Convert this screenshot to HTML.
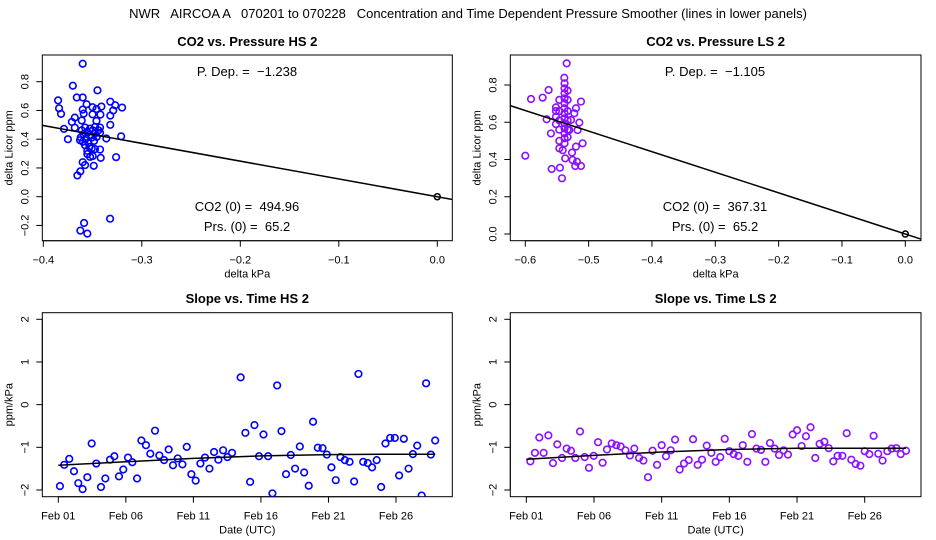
<!DOCTYPE html>
<html><head><meta charset="utf-8"><style>
body{margin:0;background:#fff;}
svg{display:block;font-family:"Liberation Sans",sans-serif;}
svg text{white-space:pre;}
</style></head><body>
<svg id="c" width="936" height="540" viewBox="0 0 936 540">
<text x="468" y="18" text-anchor="middle" font-size="13">NWR   AIRCOA A   070201 to 070228   Concentration and Time Dependent Pressure Smoother (lines in lower panels)</text>
</svg>
<script>
// ---- data: top-left (HS CO2 vs pressure) ----
const hsPx=[-0.360,-0.370,-0.345,-0.366,-0.360,-0.385,-0.384,-0.382,-0.332,-0.327,-0.320,-0.356,-0.350,-0.341,-0.346,-0.360,-0.329,-0.359,-0.350,-0.342,-0.332,-0.368,-0.361,-0.346,-0.371,-0.332,-0.379,-0.368,
-0.3576,-0.3525,-0.3475,-0.3424,-0.361,-0.3553,-0.3498,-0.344,-0.3593,-0.3532,-0.3475,-0.3424,-0.362,-0.3566,-0.3508,-0.3458,-0.36,-0.3542,-0.3485,-0.3627,-0.3576,-0.3532,-0.3553,-0.3508,-0.3475,-0.3424,-0.3553,-0.3525,-0.3498,-0.3417,-0.3261,-0.36,-0.3576,-0.3488,-0.3654,-0.3624,-0.3586,-0.3624,-0.3553,-0.3322,-0.336,-0.321,-0.375];
const hsPy=[0.925,0.772,0.74,0.69,0.69,0.67,0.615,0.576,0.661,0.636,0.62,0.643,0.622,0.627,0.61,0.606,0.60,0.578,0.573,0.571,0.564,0.55,0.53,0.527,0.52,0.50,0.472,0.48,
0.481,0.474,0.486,0.481,0.462,0.451,0.462,0.462,0.435,0.428,0.439,0.444,0.412,0.405,0.412,0.416,0.382,0.375,0.388,0.393,0.358,0.347,0.319,0.335,0.331,0.328,0.296,0.277,0.282,0.27,0.275,0.24,0.22,0.215,0.148,0.176,-0.183,-0.236,-0.257,-0.153,0.405,0.42,0.40];
const hsDep=-1.238;
// ---- data: top-right (LS CO2 vs pressure) ----
const lsPx=[-0.5347,-0.5384,-0.591,-0.5726,-0.5632,-0.5663,-0.5595,-0.6,-0.5584,-0.5453,-0.5421,-0.541,-0.537,-0.5263,-0.5253,-0.5211,-0.5121,-0.5184,-0.52,-0.5095,-0.5147,-0.5121,-0.52,-0.5226,-0.5174,-0.5279,-0.5305,
-0.538,-0.538,-0.538,-0.538,-0.538,-0.538,-0.538,-0.538,-0.538,-0.538,-0.538,-0.538,-0.538,
-0.5463,-0.5463,-0.5463,-0.5463,-0.5463,-0.5463,-0.5516,-0.5516,-0.5516,-0.5516,-0.5332,-0.5332,-0.5332,-0.5332,-0.5332,-0.5332];
const lsPy=[0.916,0.839,0.725,0.732,0.773,0.616,0.54,0.42,0.349,0.356,0.299,0.45,0.406,0.437,0.397,0.365,0.365,0.388,0.469,0.487,0.598,0.711,0.675,0.648,0.558,0.612,0.558,
0.809,0.782,0.755,0.728,0.702,0.675,0.648,0.621,0.594,0.567,0.54,0.514,0.487,
0.72,0.66,0.61,0.56,0.50,0.46,0.68,0.63,0.66,0.59,0.77,0.72,0.66,0.61,0.56,0.52];
const lsDep=-1.105;
// ---- data: bottom-left (HS slope vs time), day offset from Feb 01 ----
const hsDay=[0.12,0.44,0.81,1.16,1.48,1.8,2.15,2.47,2.81,3.16,3.48,3.83,4.15,4.49,4.81,5.16,5.48,5.83,6.15,6.49,6.81,7.16,7.48,7.83,8.17,8.49,8.84,9.19,9.51,9.85,10.17,10.52,10.86,11.19,11.53,11.85,12.2,12.52,12.86,13.5,13.85,14.2,14.52,14.86,15.19,15.53,15.85,16.2,16.52,16.86,17.21,17.53,17.88,18.2,18.54,18.86,19.21,19.56,19.88,20.22,20.54,20.89,21.21,21.56,21.9,22.22,22.57,22.91,23.23,23.57,23.9,24.22,24.57,24.91,25.23,25.58,25.93,26.25,26.57,26.9,27.23,27.58,27.9];
const hsSlope=[-1.91,-1.41,-1.27,-1.56,-1.84,-1.98,-1.70,-0.91,-1.38,-1.93,-1.73,-1.29,-1.21,-1.68,-1.52,-1.24,-1.35,-1.73,-0.84,-0.95,-1.15,-0.61,-1.19,-1.30,-1.05,-1.42,-1.26,-1.40,-0.99,-1.63,-1.78,-1.38,-1.24,-1.5,-1.11,-1.29,-1.07,-1.23,-1.13,0.64,-0.66,-1.81,-0.48,-1.21,-0.70,-1.21,-2.08,0.45,-0.62,-1.63,-1.18,-1.5,-0.98,-1.59,-1.90,-0.40,-1.01,-1.02,-1.17,-1.47,-1.77,-1.23,-1.30,-1.34,-1.80,0.72,-1.34,-1.37,-1.47,-1.30,-1.93,-0.91,-0.78,-0.78,-1.66,-0.80,-1.5,-1.16,-0.96,-2.13,0.5,-1.17,-0.84];
const hsSmDay=[0,5,10,15,20,25,27.9];
const hsSmVal=[-1.42,-1.34,-1.26,-1.20,-1.17,-1.16,-1.16];
// ---- data: bottom-right (LS slope vs time) ----
const lsDay=[0.3,0.64,0.96,1.28,1.63,1.97,2.29,2.64,2.98,3.3,3.62,3.97,4.31,4.63,4.98,5.3,5.64,5.96,6.31,6.65,6.97,7.32,7.66,7.98,8.33,8.65,8.99,9.33,9.66,10.0,10.32,10.67,10.99,11.33,11.65,12.0,12.32,12.66,12.98,13.33,13.67,13.99,14.33,14.66,15.0,15.32,15.67,15.99,16.33,16.67,17.0,17.34,17.66,18.0,18.35,18.67,19.01,19.33,19.68,20.0,20.34,20.66,21.0,21.35,21.67,22.02,22.34,22.68,23.0,23.35,23.67,24.01,24.33,24.68,25.0,25.34,25.66,26.0,26.32,26.67,26.99,27.34,27.66,28.05];
const lsSlope=[-1.33,-1.13,-0.77,-1.13,-0.72,-1.37,-0.93,-1.25,-1.03,-1.08,-1.25,-0.63,-1.23,-1.48,-1.2,-0.88,-1.36,-1.05,-0.91,-0.95,-0.98,-1.07,-1.19,-1.03,-1.25,-1.31,-1.70,-1.08,-1.41,-0.95,-1.21,-1.07,-0.82,-1.52,-1.38,-1.30,-0.81,-1.41,-1.29,-0.96,-1.13,-1.34,-1.23,-0.80,-1.09,-1.16,-1.2,-0.95,-1.34,-0.69,-1.03,-1.06,-1.34,-0.9,-1.03,-1.18,-1.07,-1.17,-0.70,-0.60,-0.97,-0.74,-0.53,-1.25,-0.92,-0.87,-1.02,-1.33,-1.2,-1.2,-0.67,-1.29,-1.39,-1.43,-1.09,-1.16,-0.73,-1.15,-1.31,-1.09,-1.03,-1.02,-1.16,-1.08];
const lsSmDay=[0,5,10,15,20,25,28.05];
const lsSmVal=[-1.28,-1.19,-1.11,-1.05,-1.02,-1.02,-1.02];
const dateTicks=[0,5,10,15,20,25];
const dateLabels=["Feb 01","Feb 06","Feb 11","Feb 16","Feb 21","Feb 26"];
const slopeTicks=[-2,-1,0,1,2];

const svg=document.getElementById('c');
const NS='http://www.w3.org/2000/svg';
function mk(tag,at,parent){const e=document.createElementNS(NS,tag);for(const k in at)e.setAttribute(k,at[k]);(parent||svg).appendChild(e);return e;}
function txt(x,y,s,size,parent,extra){const e=mk('text',Object.assign({x:x,y:y,'font-size':size,'text-anchor':'middle'},extra||{}),parent);e.textContent=s;return e;}

function panel(o){
  const g=mk('g',{});
  
  
  const X=v=>o.x0+(v-o.xv0)*(o.x1-o.x0)/(o.xv1-o.xv0);
  const Y=v=>o.y0+(v-o.yv0)*(o.y1-o.y0)/(o.yv1-o.yv0);
  const t=txt((o.L+o.R)/2,o.titleY,o.title,13,g,{'font-weight':'bold'});
  
  
  const box=mk('rect',{x:o.L,y:o.T,width:o.R-o.L,height:o.B-o.T,fill:'none',stroke:'#000','stroke-width':1},g);
  
  
  const xa=mk('g',{},g);
  
  
  mk('line',{x1:X(o.xt[0]),x2:X(o.xt[o.xt.length-1]),y1:o.B,y2:o.B,stroke:'#000'},xa);
  o.xt.forEach((v,i)=>{const px=X(v);mk('line',{x1:px,x2:px,y1:o.B,y2:o.B+6,stroke:'#000'},xa);
    const l=txt(px,o.B+23,o.xl[i],11,xa);});
  const xt=txt((o.L+o.R)/2,o.B+37,o.xtitle,11,g);
  
  
  const ya=mk('g',{},g);
  
  
  mk('line',{x1:o.L,x2:o.L,y1:Y(o.yt[0]),y2:Y(o.yt[o.yt.length-1]),stroke:'#000'},ya);
  o.yt.forEach((v,i)=>{const py=Y(v);mk('line',{x1:o.L,x2:o.L-6,y1:py,y2:py,stroke:'#000'},ya);
    const lx=o.L-14;const l=txt(lx,py,o.yl[i],11,ya,{transform:`rotate(-90 ${lx} ${py})`});});
  const yx=o.L-30,yy=(o.T+o.B)/2;
  const ytl=txt(yx,yy,o.ytitle,11,g,{transform:`rotate(-90 ${yx} ${yy})`});
  
  
  const cid='clip'+o.name;
  const cp=mk('clipPath',{id:cid},g);mk('rect',{x:o.L,y:o.T,width:o.R-o.L,height:o.B-o.T},cp);
  const pg=mk('g',{'clip-path':`url(#${cid})`},g);
  
  
  o.px.forEach((v,i)=>{const c=mk('circle',{cx:X(v),cy:Y(o.py[i]),r:3.3,fill:'none',stroke:o.color,'stroke-width':1.6},pg);
    
    });
  let d='';
  o.lx.forEach((v,i)=>{d+=(i?'L':'M')+X(v).toFixed(1)+' '+Y(o.ly[i]).toFixed(1);});
  const ln=mk('path',{d:d,fill:'none',stroke:'#000','stroke-width':1.5},pg);
  
  
  if(o.origin){const oc=mk('circle',{cx:X(0),cy:Y(0),r:3,fill:'none',stroke:'#000','stroke-width':1.5},pg);
    
    }
  (o.notes||[]).forEach(n=>{const e=txt(n[0],n[1],n[2],13,g);});
}

panel({name:'co2-vs-pressure-hs',title:'CO2 vs. Pressure HS 2',titleY:46,L:42.3,R:452.3,T:55,B:240.7,
  x0:43.3,x1:437.3,xv0:-0.4,xv1:0,y0:196.7,y1:81.7,yv0:0,yv1:0.8,
  xt:[-0.4,-0.3,-0.2,-0.1,0],xl:['−0.4','−0.3','−0.2','−0.1','0.0'],
  yt:[-0.2,0,0.2,0.4,0.6,0.8],yl:['−0.2','0.0','0.2','0.4','0.6','0.8'],
  xtitle:'delta kPa',ytitle:'delta Licor ppm',px:hsPx,py:hsPy,color:'#0000ff',
  lx:[-0.42,0.02],ly:[-0.42*hsDep,0.02*hsDep],lineName:'pressure-fit-line',origin:true,
  notes:[[247,76,'P. Dep. =  −1.238','p-dep-label'],[247,211,'CO2 (0) =  494.96','co2-zero-label'],[247,231,'Prs. (0) =  65.2','prs-zero-label']]});
panel({name:'co2-vs-pressure-ls',title:'CO2 vs. Pressure LS 2',titleY:46,L:510.3,R:921,T:55,B:240.7,
  x0:525.3,x1:905.3,xv0:-0.6,xv1:0,y0:234,y1:85,yv0:0,yv1:0.8,
  xt:[-0.6,-0.5,-0.4,-0.3,-0.2,-0.1,0],xl:['−0.6','−0.5','−0.4','−0.3','−0.2','−0.1','0.0'],
  yt:[0,0.2,0.4,0.6,0.8],yl:['0.0','0.2','0.4','0.6','0.8'],
  xtitle:'delta kPa',ytitle:'delta Licor ppm',px:lsPx,py:lsPy,color:'#8a10ff',
  lx:[-0.65,0.03],ly:[-0.65*lsDep,0.03*lsDep],lineName:'pressure-fit-line',origin:true,
  notes:[[715,76,'P. Dep. =  −1.105','p-dep-label'],[715,211,'CO2 (0) =  367.31','co2-zero-label'],[715,231,'Prs. (0) =  65.2','prs-zero-label']]});
panel({name:'slope-vs-time-hs',title:'Slope vs. Time HS 2',titleY:303,L:42.3,R:452.3,T:312.7,B:496.7,
  x0:58.3,x1:396,xv0:0,xv1:25,y0:490,y1:319.3,yv0:-2,yv1:2,
  xt:dateTicks,xl:dateLabels,yt:slopeTicks,yl:['−2','−1','0','1','2'],
  xtitle:'Date (UTC)',ytitle:'ppm/kPa',px:hsDay,py:hsSlope,color:'#0000ff',
  lx:hsSmDay,ly:hsSmVal,lineName:'smoother-line'});
panel({name:'slope-vs-time-ls',title:'Slope vs. Time LS 2',titleY:303,L:510.3,R:921,T:312.7,B:496.7,
  x0:526.3,x1:864.7,xv0:0,xv1:25,y0:490,y1:319.3,yv0:-2,yv1:2,
  xt:dateTicks,xl:dateLabels,yt:slopeTicks,yl:['−2','−1','0','1','2'],
  xtitle:'Date (UTC)',ytitle:'ppm/kPa',px:lsDay,py:lsSlope,color:'#8a10ff',
  lx:lsSmDay,ly:lsSmVal,lineName:'smoother-line'});
</script>
</body></html>
